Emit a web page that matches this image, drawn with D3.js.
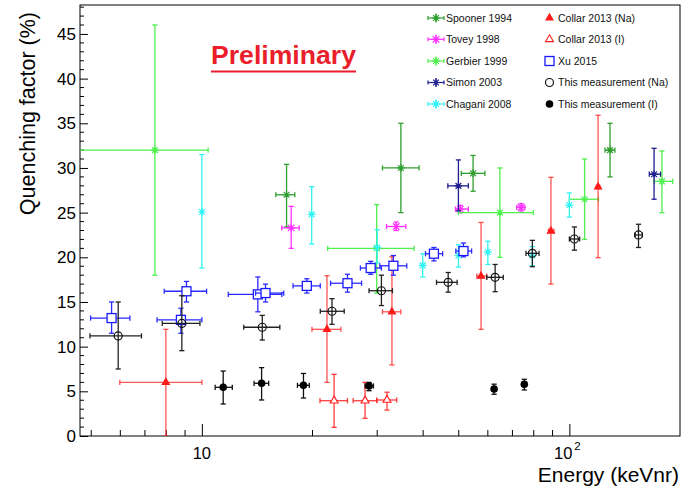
<!DOCTYPE html>
<html><head><meta charset="utf-8">
<script src="https://cdn.jsdelivr.net/npm/d3@7"></script>
<style>
body{margin:0;background:#fff}
svg{display:block}
text{font-family:"Liberation Sans",Arial,Helvetica,sans-serif}
</style>
</head><body>
<svg id="chart" width="681" height="490"></svg>
<script>
// ---- data: [energy, QF, energyLow, energyHigh, QFLow, QFHigh] ----
const spooner1994 = [
  [17.0, 27.0, 15.9, 17.9, 23.4, 30.4],
  [34.8, 30.0, 31.0, 39.0, 25.0, 35.0],
  [54.7, 29.4, 50.8, 58.9, 27.4, 31.4],
  [129, 32.0, 125, 133, 29.0, 35.0]
];
const tovey1998 = [
  [17.5, 23.3, 16.5, 18.4, 21.0, 25.7],
  [33.8, 23.45, 31.8, 35.9, 23.0, 23.95],
  [50.5, 25.4, 49.0, 53.1, 25.0, 25.8],
  [73.9, 25.6, 71.9, 75.7, 25.2, 26.0]
];
const gerbier1999 = [
  [7.45, 32.0, 4.0, 10.4, 18.0, 46.0],
  [29.9, 21.0, 22.0, 37.8, 16.0, 25.9],
  [64.7, 25.0, 49.9, 79.8, 20.0, 30.0],
  [110, 26.5, 100, 120, 22.0, 31.0],
  [178.6, 28.5, 170, 191, 25.0, 31.9]
];
const simon2003 = [
  [49.9, 28.0, 46.7, 53.1, 25.2, 30.9],
  [170, 29.3, 165, 177, 26.5, 32.2]
];
const chagani2008 = [
  [10.0, 25.1, 10.0, 10.0, 18.8, 31.5],
  [19.9, 24.8, 19.9, 19.9, 21.5, 27.9],
  [30.0, 21.1, 30.0, 30.0, 19.4, 23.1],
  [39.9, 19.1, 39.9, 39.9, 17.8, 20.4],
  [49.9, 20.2, 49.9, 49.9, 18.9, 21.4],
  [60.0, 20.6, 60.0, 60.0, 19.2, 21.8],
  [79.3, 20.2, 79.3, 79.3, 19.06, 21.2],
  [100, 25.85, 100, 100, 24.5, 27.2]
];
const collar2013Na = [
  [7.98, 6.0, 5.98, 10.0, 0, 11.94],
  [21.9, 11.94, 19.93, 23.9, 6.0, 17.94],
  [32.9, 13.9, 31.0, 34.8, 7.95, 20.07],
  [57.5, 17.9, 56.0, 59.6, 11.94, 23.9],
  [89.1, 22.94, 87.7, 90.8, 17.0, 28.95],
  [119.7, 27.87, 118.5, 121, 19.96, 35.9]
];
const collar2013I = [
  [22.9, 3.95, 20.96, 24.9, 0.97, 6.9],
  [27.8, 3.95, 25.8, 29.95, 1.98, 6.0],
  [31.9, 4.03, 29.9, 33.9, 2.9, 4.9]
];
const xu2015 = [
  [5.68, 13.2, 4.98, 6.37, 11.5, 15.0],
  [9.08, 16.2, 7.9, 10.3, 15.0, 17.3],
  [8.77, 13.0, 7.55, 10.0, 11.5, 14.3],
  [14.2, 15.85, 11.8, 16.5, 13.9, 17.8],
  [14.9, 16.0, 14.0, 16.7, 15.0, 17.0],
  [19.3, 16.8, 17.7, 21.0, 16.0, 17.6],
  [24.9, 17.1, 22.4, 27.2, 16.1, 18.1],
  [28.8, 18.8, 27.0, 30.8, 18.1, 19.55],
  [33.2, 19.05, 30.5, 36.1, 18.0, 20.2],
  [42.8, 20.4, 40.6, 45.2, 19.6, 21.1],
  [51.5, 20.7, 49.1, 54.2, 20.05, 21.6]
];
const thisNa = [
  [5.92, 11.2, 4.96, 6.85, 7.5, 15.0],
  [8.82, 12.6, 7.8, 9.88, 9.55, 15.7],
  [14.6, 12.17, 13.0, 16.3, 10.74, 13.5],
  [22.6, 13.96, 21.0, 24.4, 12.5, 15.37],
  [30.8, 16.26, 28.5, 33.0, 14.6, 18.0],
  [46.8, 17.2, 43.5, 49.5, 16.1, 18.3],
  [62.8, 17.76, 59.6, 66.1, 16.15, 19.2],
  [79.3, 20.45, 76.2, 82.7, 18.95, 21.9],
  [103.2, 22.05, 100, 106.7, 20.8, 23.4],
  [154.2, 22.5, 151, 158, 21.1, 23.7]
];
const thisI = [
  [11.43, 5.45, 10.87, 12.1, 3.58, 7.27],
  [14.54, 5.9, 13.87, 15.2, 4.03, 7.65],
  [18.9, 5.67, 18.2, 19.6, 4.25, 7.0],
  [28.5, 5.6, 27.8, 29.3, 5.07, 6.0],
  [62.4, 5.26, 61.5, 63.3, 4.67, 5.8],
  [75.4, 5.78, 74.4, 76.4, 5.15, 6.35]
];
const seriesNames = ["Spooner 1994","Tovey 1998","Gerbier 1999","Simon 2003","Chagani 2008",
  "Collar 2013 (Na)","Collar 2013 (I)","Xu 2015","This measurement (Na)","This measurement (I)"];
const yTicks = [0,5,10,15,20,25,30,35,40,45];
const xMajorTicks = [10, 100];
const xMinorTicks = [5,6,7,8,9,20,30,40,50,60,70,80,90];
const xDomain = [4.66, 200];
const yDomain = [0, 48.24];

// ---- styles ----
const styles = [
  {data: spooner1994, color:"#2f9f2f", marker:"star", r:4},
  {data: tovey1998, color:"#ff30ff", marker:"star", r:4.5},
  {data: gerbier1999, color:"#4ef04e", marker:"star", r:4},
  {data: simon2003, color:"#1e1e90", marker:"star", r:4},
  {data: chagani2008, color:"#30f4f4", marker:"star", r:4},
  {data: collar2013Na, color:"#ff1a1a", bar:"rgba(255,40,40,0.8)", marker:"triFill"},
  {data: collar2013I, color:"#ff1a1a", bar:"rgba(255,40,40,0.9)", marker:"triOpen"},
  {data: xu2015, color:"#1a1aff", bar:"#2a2aff", marker:"square"},
  {data: thisNa, color:"#111", bar:"#222", marker:"circOpen"},
  {data: thisI, color:"#000", bar:"#111", marker:"circFill"}
];

const W=681,H=490, L=80,R=680,T=5,B=436;
const svg = d3.select("#chart");
svg.append("rect").attr("width",W).attr("height",H).attr("fill","#fff");
const x = d3.scaleLog().domain(xDomain).range([L,R]);
const y = d3.scaleLinear().domain(yDomain).range([B,T]);

svg.append("defs").append("clipPath").attr("id","clip")
  .append("rect").attr("x",L).attr("y",T).attr("width",R-L).attr("height",B-T);

// axes
const yAxis = d3.axisLeft(y).tickValues(yTicks).tickSize(-8).tickPadding(12).tickFormat(d3.format("d"));
const gy = svg.append("g").attr("transform",`translate(${L},0)`).call(yAxis);
gy.select(".domain").remove();
gy.selectAll("text").attr("font-size",17).attr("fill","#000").attr("x",-4).attr("text-anchor","end");
gy.selectAll("line").attr("stroke","#000");
const yMinor = d3.range(0,49).filter(v=>v%5!==0);
svg.append("g").selectAll("line").data(yMinor).join("line")
  .attr("x1",L).attr("x2",L+4).attr("y1",d=>y(d)).attr("y2",d=>y(d)).attr("stroke","#000");

const xAxis = d3.axisBottom(x).tickValues(xMajorTicks).tickSize(-12).tickFormat("");
const gx = svg.append("g").attr("transform",`translate(0,${B})`).call(xAxis);
gx.select(".domain").remove();
gx.selectAll("line").attr("stroke","#000");
svg.append("g").selectAll("line").data(xMinorTicks).join("line")
  .attr("x1",d=>x(d)).attr("x2",d=>x(d)).attr("y1",B).attr("y2",B-6).attr("stroke","#000");
// x tick labels
svg.append("text").attr("x",x(10)).attr("y",459).attr("text-anchor","middle").attr("font-size",16.5).text("10");
svg.append("text").attr("x",x(100)+3).attr("y",458.5).attr("text-anchor","end").attr("font-size",16.5).text("10");
svg.append("text").attr("x",x(100)+5).attr("y",450).attr("font-size",11.5).text("2");

// frame
svg.append("rect").attr("x",L).attr("y",T).attr("width",R-L).attr("height",B-T)
  .attr("fill","none").attr("stroke","#000").attr("stroke-width",1);

// axis titles
svg.append("text").attr("x",679).attr("y",481.5).attr("text-anchor","end").attr("font-size",21).text("Energy (keVnr)");
svg.append("text").attr("transform","translate(35,12) rotate(-90)").attr("text-anchor","end")
  .attr("font-size",21.5).text("Quenching factor (%)");

// Preliminary
const pre = svg.append("text").attr("x",211).attr("y",63.5).attr("font-size",26).attr("font-weight","bold")
  .attr("fill","#ea1f2b").text("Preliminary");
pre.attr("textLength",145).attr("lengthAdjust","spacingAndGlyphs");
svg.append("line").attr("x1",211).attr("x2",356).attr("y1",71.5).attr("y2",71.5)
  .attr("stroke","#ea1f2b").attr("stroke-width",2);

// marker drawing
function starPath(r){
  const d=r*0.72;
  return `M${-r},0L${r},0M0,${-r}L0,${r}M${-d},${-d}L${d},${d}M${-d},${d}L${d},${-d}`;
}
function drawMarker(g, type, cx, cy, color, r){
  if(type==="star"){
    g.append("path").attr("d",starPath(r)).attr("transform",`translate(${cx},${cy})`)
      .attr("stroke",color).attr("stroke-width",1.2).attr("fill","none");
    g.append("circle").attr("cx",cx).attr("cy",cy).attr("r",1.3).attr("fill",color);
  } else if(type==="triFill"||type==="triOpen"){
    g.append("path").attr("d",d3.symbol(d3.symbolTriangle,type==="triFill"?22:27)())
      .attr("transform",`translate(${cx},${cy})`)
      .attr("fill",type==="triFill"?color:"#fff").attr("stroke",color).attr("stroke-width",1.1);
  } else if(type==="square"){
    g.append("rect").attr("x",cx-4.5).attr("y",cy-4.5).attr("width",9).attr("height",9)
      .attr("fill","#fff").attr("stroke",color).attr("stroke-width",1.3);
  } else if(type==="circOpen"){
    g.append("circle").attr("cx",cx).attr("cy",cy).attr("r",4).attr("fill","none")
      .attr("stroke",color).attr("stroke-width",1.2);
  } else if(type==="circFill"){
    g.append("circle").attr("cx",cx).attr("cy",cy).attr("r",3.8).attr("fill",color);
  }
}

const plot = svg.append("g").attr("clip-path","url(#clip)");
const cap = 2.6;
styles.forEach(s=>{
  const g = plot.append("g");
  const bc = s.bar||s.color;
  s.data.forEach(p=>{
    const [ex,ev,xl,xh,yl,yh]=p;
    const cx=x(ex), cy=y(ev);
    if(yh>yl){
      g.append("line").attr("x1",cx).attr("x2",cx).attr("y1",y(yl)).attr("y2",y(yh)).attr("stroke",bc).attr("stroke-width",1.3);
      [yl,yh].forEach(v=>g.append("line").attr("x1",cx-cap).attr("x2",cx+cap).attr("y1",y(v)).attr("y2",y(v)).attr("stroke",bc).attr("stroke-width",1.3));
    }
    if(xh>xl){
      g.append("line").attr("x1",x(xl)).attr("x2",x(xh)).attr("y1",cy).attr("y2",cy).attr("stroke",bc).attr("stroke-width",1.3);
      [xl,xh].forEach(v=>g.append("line").attr("x1",x(v)).attr("x2",x(v)).attr("y1",cy-cap).attr("y2",cy+cap).attr("stroke",bc).attr("stroke-width",1.3));
    }
    drawMarker(g, s.marker, cx, cy, s.color, s.r||4);
  });
});

// legend
const rowsY=[18,39.3,61,82.5,104];
const leg = svg.append("g");
styles.forEach((s,i)=>{
  const col = i<5?0:1, row=i%5;
  const ly = rowsY[row];
  const mx = col===0?436:549.5;
  const tx = col===0?446:558;
  if(col===0){
    leg.append("line").attr("x1",428).attr("x2",444).attr("y1",ly).attr("y2",ly).attr("stroke",s.color).attr("stroke-width",1.2);
    leg.append("line").attr("x1",mx).attr("x2",mx).attr("y1",ly-4.5).attr("y2",ly+4.5).attr("stroke",s.color).attr("stroke-width",1.2);
    [428,444].forEach(v=>leg.append("line").attr("x1",v).attr("x2",v).attr("y1",ly-2).attr("y2",ly+2).attr("stroke",s.color).attr("stroke-width",1.2));
  }
  drawMarker(leg, s.marker, mx, ly, s.color, s.r||4);
  leg.append("text").attr("x",tx).attr("y",ly+3.8).attr("font-size",10.5).attr("fill","#111").text(seriesNames[i]);
});
</script>
</body></html>
